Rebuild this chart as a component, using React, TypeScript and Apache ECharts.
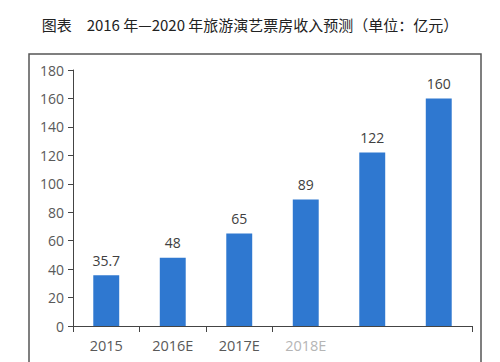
import React, { useEffect, useRef } from "react";
import * as echarts from "echarts";

const categories = ["2015", "2016E", "2017E", "2018E", "2019E", "2020E"];
const revenue = [35.7, 48, 65, 89, 122, 160];
const yTicks = [0, 20, 40, 60, 80, 100, 120, 140, 160, 180];
const titleText = "图表　2016 年—2020 年旅游演艺票房收入预测（单位：亿元）";

export default function App() {
  const ref = useRef<HTMLDivElement>(null);
  useEffect(() => {
    if (!ref.current) return;
    const chart = echarts.init(ref.current, null, { renderer: "svg" });
    chart.setOption({
      animation: false,
      backgroundColor: "#ffffff",
      title: {
        text: titleText,
        left: "center",
        top: 12,
        textStyle: {
          fontFamily: "Noto Sans CJK SC",
          fontSize: 15,
          fontWeight: "normal",
          color: "#222",
        },
      },
      graphic: [
        {
          type: "rect",
          shape: { x: 29, y: 54, width: 452, height: 330 },
          style: { fill: "none", stroke: "#555", lineWidth: 1.5 },
          silent: true,
        },
      ],
      grid: { left: 73, top: 70, right: 28, bottom: 36 },
      xAxis: {
        type: "category",
        data: categories.map((c, i) =>
          i === 3 ? { value: c, textStyle: { color: "#b5b5b5" } } : c
        ),
        axisLine: { lineStyle: { color: "#444", width: 1 } },
        axisTick: { show: true, alignWithLabel: false, length: 6, lineStyle: { color: "#444" } },
        axisLabel: {
          interval: (index: number) => index < 4,
          color: "#595959",
          fontSize: 14.5,
          fontFamily: "Open Sans",
          margin: 12,
        },
      },
      yAxis: {
        type: "value",
        min: yTicks[0],
        max: yTicks[yTicks.length - 1],
        interval: yTicks[1] - yTicks[0],
        splitLine: { show: false },
        axisLine: { show: true, lineStyle: { color: "#444", width: 1 } },
        axisTick: { show: true, length: 5, lineStyle: { color: "#444" } },
        axisLabel: {
          color: "#595959",
          fontSize: 14,
          fontFamily: "Open Sans",
          margin: 9,
        },
      },
      series: [
        {
          type: "bar",
          data: revenue,
          barWidth: "39%",
          itemStyle: { color: "#2f78d0" },
          label: {
            show: true,
            position: "top",
            distance: 8,
            color: "#404040",
            fontSize: 14,
            fontFamily: "Open Sans",
          },
        },
      ],
    });
    return () => chart.dispose();
  }, []);
  return (
    <div
      ref={ref}
      style={{ position: "absolute", left: 0, top: 0, width: 500, height: 362 }}
    />
  );
}
